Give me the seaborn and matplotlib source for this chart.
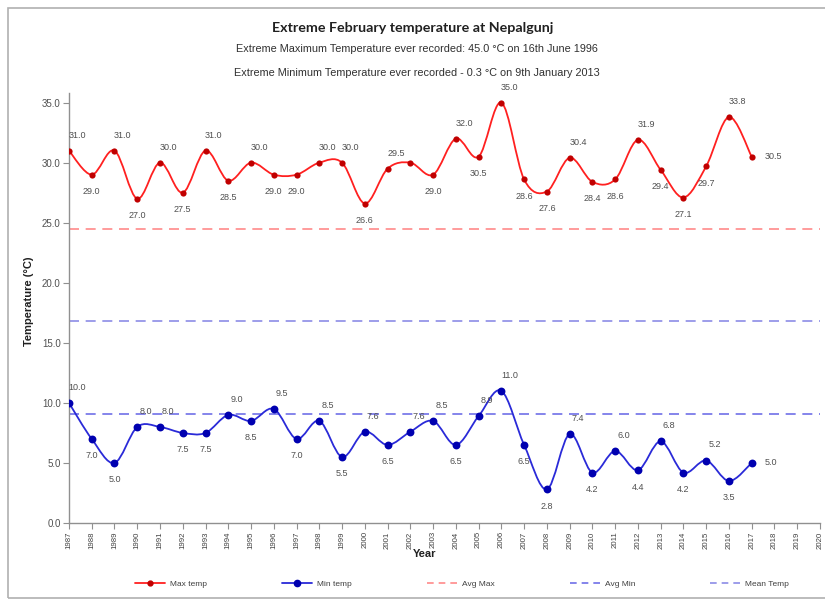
import matplotlib
matplotlib.use("Agg")
import matplotlib.pyplot as plt
from matplotlib.path import Path
from matplotlib.patches import PathPatch, Rectangle
from matplotlib.lines import Line2D
import numpy as np
import pandas as pd
import seaborn as sns

years = list(range(1987, 2018))
max_temp = [31.0, 29.0, 31.0, 27.0, 30.0, 27.5, 31.0, 28.5, 30.0, 29.0,
            29.0, 30.0, 30.0, 26.6, 29.5, 30.0, 29.0, 32.0, 30.5, 35.0,
            28.6, 27.6, 30.4, 28.4, 28.6, 31.9, 29.4, 27.1, 29.7, 33.8, 30.5]
min_temp = [10.0, 7.0, 5.0, 8.0, 8.0, 7.5, 7.5, 9.0, 8.5, 9.5,
            7.0, 8.5, 5.5, 7.6, 6.5, 7.6, 8.5, 6.5, 8.9, 11.0,
            6.5, 2.8, 7.4, 4.2, 6.0, 4.4, 6.8, 4.2, 5.2, 3.5, 5.0]
avg_max = 24.5
avg_min = 9.1
mean_temp = 16.8
axis_years = list(range(1987, 2021))

df = pd.DataFrame({"Year": years, "Max temp": max_temp, "Min temp": min_temp})

sns.set_theme(style="white")
plt.rcParams["font.family"] = ["Liberation Sans", "DejaVu Sans"]

fig = plt.figure(figsize=(8.25, 6.02), dpi=100)
ax = fig.add_axes([0.0836, 0.1312, 0.9103, 0.7143])

# frame around the whole chart
fig.patches.append(Rectangle((8 / 825, 4 / 602), 1.0, 590 / 602, transform=fig.transFigure,
                             fill=False, edgecolor="#b0b0b0", linewidth=1.2))


def smooth_path(xs, ys):
    # excel style smoothed line: catmull-rom segments as cubic bezier
    pts = np.column_stack([xs, ys]).astype(float)
    ext = np.vstack([pts[0], pts, pts[-1]])
    verts = [pts[0]]
    codes = [Path.MOVETO]
    for i in range(1, len(ext) - 2):
        p0, p1, p2, p3 = ext[i - 1], ext[i], ext[i + 1], ext[i + 2]
        verts += [p1 + (p2 - p0) / 6, p2 - (p3 - p1) / 6, p2]
        codes += [Path.CURVE4] * 3
    return Path(verts, codes)


series = [("Max temp", "#ff2020", "#c00000", 20), ("Min temp", "#2a2ad8", "#0000b0", 32)]
for col, lc, mc, ms in series:
    ax.add_patch(PathPatch(smooth_path(df["Year"], df[col]), facecolor="none",
                           edgecolor=lc, linewidth=1.3, zorder=3))
    sns.scatterplot(data=df, x="Year", y=col, color=mc, s=ms, edgecolor=mc,
                    linewidth=0, ax=ax, zorder=4)

ax.axhline(avg_max, color="#ff8a8a", linestyle=(0, (6, 4)), linewidth=1.2, zorder=2)
ax.axhline(mean_temp, color="#8c8ce6", linestyle=(0, (6, 4)), linewidth=1.2, zorder=2)
ax.axhline(avg_min, color="#6f6fe8", linestyle=(0, (6, 4)), linewidth=1.2, zorder=2)

# data labels
lab_col = "#505050"
for col in ["Max temp", "Min temp"]:
    vals = df[col].tolist()
    for i, (yr, v) in enumerate(zip(years, vals)):
        if col == "Max temp" and yr == 2002:
            continue
        if i == len(vals) - 1:
            ax.annotate(f"{v:.1f}", (yr, v), xytext=(9, 0), textcoords="offset points",
                        ha="left", va="center", fontsize=6.5, color=lab_col)
            continue
        prev = vals[i - 1] if i > 0 else vals[i + 1]
        nxt = vals[i + 1]
        if v >= (prev + nxt) / 2:
            ax.annotate(f"{v:.1f}", (yr, v), xytext=(6, 8), textcoords="offset points",
                        ha="center", va="bottom", fontsize=6.5, color=lab_col)
        else:
            ax.annotate(f"{v:.1f}", (yr, v), xytext=(0, -9), textcoords="offset points",
                        ha="center", va="top", fontsize=6.5, color=lab_col)

ax.set_xlim(1987, 2020)
ax.set_ylim(0, 35.8)
ax.set_xticks(axis_years)
ax.set_xticklabels([str(y) for y in axis_years], rotation=90, fontsize=5.6, color="#404040")
ax.set_yticks(np.arange(0, 36, 5))
ax.set_yticklabels([f"{t:.1f}" for t in np.arange(0, 36, 5)], fontsize=7, color="#505050")
ax.tick_params(axis="both", direction="out", length=4, width=0.8, color="#909090",
               bottom=True, left=True, pad=2)
for s in ["top", "right"]:
    ax.spines[s].set_visible(False)
for s in ["left", "bottom"]:
    ax.spines[s].set_color("#909090")
    ax.spines[s].set_linewidth(1.0)
ax.set_xlabel("")
ax.set_ylabel("")

fig.text(0.035, 0.50, "Temperature (°C)", rotation=90, ha="center", va="center",
         fontsize=8, fontweight="bold", color="#202020")
fig.text(0.515, 0.079, "Year", ha="center", va="center",
         fontsize=8, fontweight="bold", color="#202020")

fig.text(0.5, 0.953, "Extreme February temperature at Nepalgunj", ha="center", va="center",
         fontsize=10.3, fontweight="bold", color="#202020", family=["Lato", "DejaVu Sans"])
fig.text(0.505, 0.918, "Extreme Maximum Temperature ever recorded: 45.0 °C on 16th June 1996",
         ha="center", va="center", fontsize=7.8, color="#303030")
fig.text(0.505, 0.879, "Extreme Minimum Temperature ever recorded - 0.3 °C on 9th January 2013",
         ha="center", va="center", fontsize=7.8, color="#303030")

handles = [
    Line2D([], [], color="#ff2020", lw=1.3, marker="o", markersize=3.5, markerfacecolor="#c00000",
           markeredgecolor="#c00000"),
    Line2D([], [], color="#2a2ad8", lw=1.3, marker="o", markersize=4.5, markerfacecolor="#0000b0",
           markeredgecolor="#0000b0"),
    Line2D([], [], color="#ff8a8a", lw=1.2, linestyle=(0, (4, 3))),
    Line2D([], [], color="#6f6fe8", lw=1.2, linestyle=(0, (4, 3))),
    Line2D([], [], color="#8c8ce6", lw=1.2, linestyle=(0, (4, 3))),
]
labels = ["Max temp", "Min temp", "Avg Max", "Avg Min", "Mean Temp"]
fig.legend(handles, labels, loc="center", bbox_to_anchor=(0.56, 0.03), ncol=5, frameon=False,
           fontsize=6, handlelength=3.6, handletextpad=0.6, columnspacing=9.0,
           labelcolor="#404040")

fig.savefig("out.png", dpi=100)
